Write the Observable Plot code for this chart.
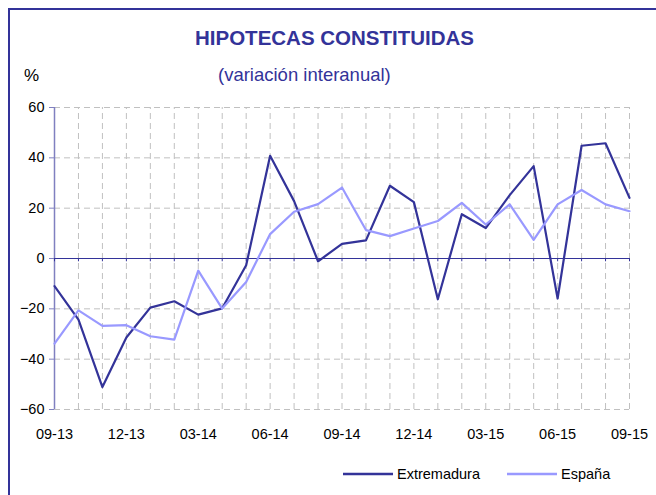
<!DOCTYPE html>
<html><head><meta charset="utf-8">
<script src="https://cdn.jsdelivr.net/npm/d3@7"></script>
<script src="https://cdn.jsdelivr.net/npm/@observablehq/plot@0.6"></script>
<style>
html,body{margin:0;padding:0;background:#fff;}
#wrap{position:relative;width:656px;height:495px;overflow:hidden;font-family:Arial,"Liberation Sans",sans-serif;}
#frame{position:absolute;left:8px;top:8px;width:720px;height:600px;border:2px solid #333399;box-sizing:border-box;}
.t{position:absolute;white-space:nowrap;line-height:1;}
#chart{position:absolute;left:0;top:0;}
</style></head>
<body><div id="wrap"><div id="frame"></div><div id="chart"></div>
<div class="t" id="title" style="left:195px;top:28px;font-size:20.5px;font-weight:bold;color:#333399;">HIPOTECAS CONSTITUIDAS</div>
<div class="t" style="left:24px;top:67px;font-size:17px;color:#000;">%</div>
<div class="t" style="left:218px;top:66px;font-size:18.5px;color:#333399;">(variación interanual)</div>
<div class="t" id="legend" style="left:343px;top:467px;font-size:14.5px;color:#000;"></div>
</div>
<script>
const months = ["09-13","10-13","11-13","12-13","01-14","02-14","03-14","04-14","05-14","06-14","07-14","08-14","09-14","10-14","11-14","12-14","01-15","02-15","03-15","04-15","05-15","06-15","07-15","08-15","09-15"];
const extremadura = [-11.0,-24.3,-51.1,-31.4,-19.5,-17.0,-22.3,-19.8,-2.7,40.8,22.8,-1.1,5.8,7.2,28.9,22.4,-16.2,17.6,12.1,25.2,36.7,-15.9,44.8,45.8,24.1];
const espana = [-33.8,-20.6,-26.8,-26.5,-30.9,-32.2,-4.8,-19.9,-9.3,9.7,18.6,21.6,28.2,11.3,8.9,11.9,14.9,22.1,13.5,21.5,7.4,21.5,27.2,21.5,18.8];
const yTicks = [-60,-40,-20,0,20,40,60];
const xLabelIdx = [0,3,6,9,12,15,18,21,24];
const seriesNames = ["Extremadura","España"];
const seriesColors = ["#333399","#9999ff"];

const rows = [];
months.forEach((m,i)=>{
  rows.push({i, m, v: extremadura[i], s: seriesNames[0]});
  rows.push({i, m, v: espana[i], s: seriesNames[1]});
});
const idx = months.map((m,i)=>i);

const chart = Plot.plot({
  width: 656, height: 495,
  marginLeft: 54, marginRight: 27, marginTop: 107, marginBottom: 86,
  style: {fontFamily: "Arial, 'Liberation Sans', sans-serif", fontSize: "14.5px", color: "#000", background: "transparent"},
  x: {type: "linear", domain: [0, 24]},
  y: {type: "linear", domain: [-60, 60]},
  color: {domain: seriesNames, range: seriesColors},
  marks: [
    Plot.ruleX(idx, {x: d=>d, y1: -60, y2: 60, stroke: "#c0c0c0", strokeWidth: 1, strokeDasharray: "6,4"}),
    Plot.ruleY(yTicks.filter(d=>d!==0), {y: d=>d, stroke: "#c0c0c0", strokeWidth: 1, strokeDasharray: "6,4"}),
    Plot.axisY(yTicks, {tickSize: 5, tickPadding: 5, stroke: "#8080c0", fontSize: 14.5, fill: "#000", label: null}),
    Plot.ruleX([0], {y1: -60, y2: 60, stroke: "#8080c0", strokeWidth: 1.5}),
    Plot.ruleX(idx, {x: d=>d, y1: 0, y2: -1.3, stroke: "#333399", strokeWidth: 1}),
    Plot.ruleY([0], {stroke: "#333399", strokeWidth: 1.2}),
    Plot.axisX(xLabelIdx, {tickSize: 0, tickPadding: 19, tickFormat: d=>months[d], fontSize: 14.5, fill: "#000", label: null}),
    Plot.line(rows, {x: "i", y: "v", z: "s", stroke: "s", strokeWidth: 2.2}),
  ]
});
document.getElementById("chart").appendChild(chart);

const leg = document.getElementById("legend");
seriesNames.forEach((n,k)=>{
  const span = document.createElement("span");
  span.style.display="inline-flex"; span.style.alignItems="center"; span.style.marginRight = k===0 ? "27px" : "0";
  span.innerHTML = `<svg width="50" height="10" style="margin-right:4px"><line x1="0" x2="50" y1="5" y2="5" stroke="${seriesColors[k]}" stroke-width="2.5"/></svg>${n}`;
  leg.appendChild(span);
});
</script></body></html>
